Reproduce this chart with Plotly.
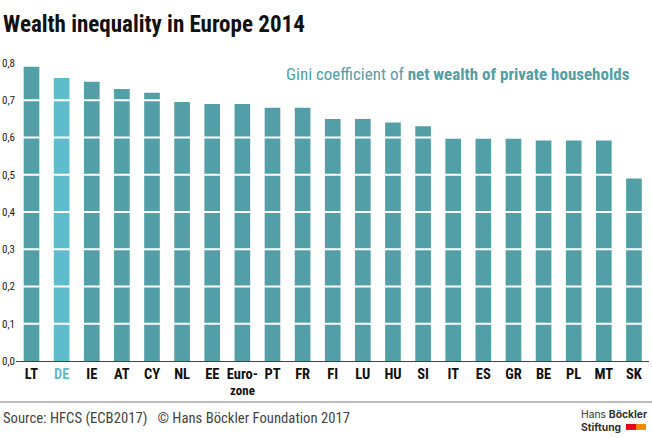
import plotly.graph_objects as go

categories = ["LT","DE","IE","AT","CY","NL","EE","Euro-","PT","FR","FI","LU","HU","SI","IT","ES","GR","BE","PL","MT","SK"]
category_second_line = "zone"
values = [0.79,0.76,0.75,0.73,0.72,0.695,0.69,0.69,0.68,0.68,0.65,0.65,0.64,0.63,0.597,0.597,0.597,0.592,0.592,0.592,0.49]
yticks = [0,0.1,0.2,0.3,0.4,0.5,0.6,0.7,0.8]
yticklabels = ["0,0","0,1","0,2","0,3","0,4","0,5","0,6","0,7","0,8"]
title = "Wealth inequality in Europe 2014"
subtitle = "Gini coefficient of <b>net wealth of private households</b>"
source = "Source: HFCS (ECB2017)   © Hans Böckler Foundation 2017"
logo = "Hans <b>Böckler</b><br><b>Stiftung</b>"

TEAL = "#539fa8"
BLUE = "#5fbccd"
FONT = "Roboto Condensed, Roboto"
W, H = 652, 438
L, R, T, B = 16, 3, 62.7, 77
PW, PH = W - L - R, H - T - B

def px(x):
    return (x - L) / PW

def py(y):
    return (H - B - y) / PH

colors = [BLUE if c == "DE" else TEAL for c in categories]
tickvals = list(range(len(categories)))
ticktext = [f"<b><span style='color:{BLUE}'>{c}</span></b>" if c == "DE" else f"<b>{c}</b>" for c in categories]

fig = go.Figure(go.Bar(x=tickvals, y=values, marker=dict(color=colors, line_width=0), width=0.52, hoverinfo="skip"))
fig.update_layout(
    width=W, height=H, margin=dict(l=L, r=R, t=T, b=B),
    paper_bgcolor="white", plot_bgcolor="white", showlegend=False,
    font=dict(family=FONT, color="#222", size=12),
    xaxis=dict(tickmode="array", tickvals=tickvals, ticktext=ticktext, range=[-0.515, 20.5],
               showline=True, linecolor="#444", linewidth=1, ticks="", showgrid=False, zeroline=False,
               tickangle=0, tickfont=dict(size=14.5, color="#111"), fixedrange=True, automargin=False),
    yaxis=dict(range=[0, 0.8], tickmode="array", tickvals=yticks, ticktext=yticklabels, showgrid=False,
               zeroline=False, ticks="", tickfont=dict(size=11, color="#222"), fixedrange=True, automargin=False),
)
for v in yticks[1:]:
    fig.add_shape(type="line", xref="paper", yref="y", x0=0, x1=1, y0=v, y1=v, line=dict(color="white", width=2))
fig.add_annotation(x=px(1), y=py(24), xref="paper", yref="paper", xanchor="left", yanchor="middle",
                   text=f"<b>{title}</b>", showarrow=False, font=dict(size=23, color="#111"))
fig.add_annotation(x=px(632), y=py(74), xref="paper", yref="paper", xanchor="right", yanchor="middle", showarrow=False,
                   text=subtitle, font=dict(size=17, color=TEAL))
fig.add_annotation(x=categories.index("Euro-"), xref="x", y=py(391), yref="paper", yanchor="middle", showarrow=False,
                   text=f"<b>{category_second_line}</b>", font=dict(size=13, color="#111"))
fig.add_annotation(x=px(1), y=py(418), xref="paper", yref="paper", xanchor="left", yanchor="middle",
                   text=source, showarrow=False, font=dict(size=14.7, color="#444"))
fig.add_shape(type="line", xref="paper", yref="paper", x0=px(0), x1=px(652), y0=py(402), y1=py(402),
              line=dict(color="#bbb", width=2))
fig.add_annotation(x=px(579), y=py(421), xref="paper", yref="paper", xanchor="left", yanchor="middle", showarrow=False,
                   align="left", text=logo, font=dict(family="Inter, Liberation Sans", size=10.3, color="#333"))
fig.add_shape(type="rect", xref="paper", yref="paper", x0=px(626), x1=px(636), y0=py(430), y1=py(424),
              fillcolor="#e2001a", line_width=0)
fig.add_shape(type="rect", xref="paper", yref="paper", x0=px(636), x1=px(646), y0=py(430), y1=py(424),
              fillcolor="#f08a00", line_width=0)
fig.write_html("out.html", config=dict(displayModeBar=False), post_script="document.body.style.margin='0'")
